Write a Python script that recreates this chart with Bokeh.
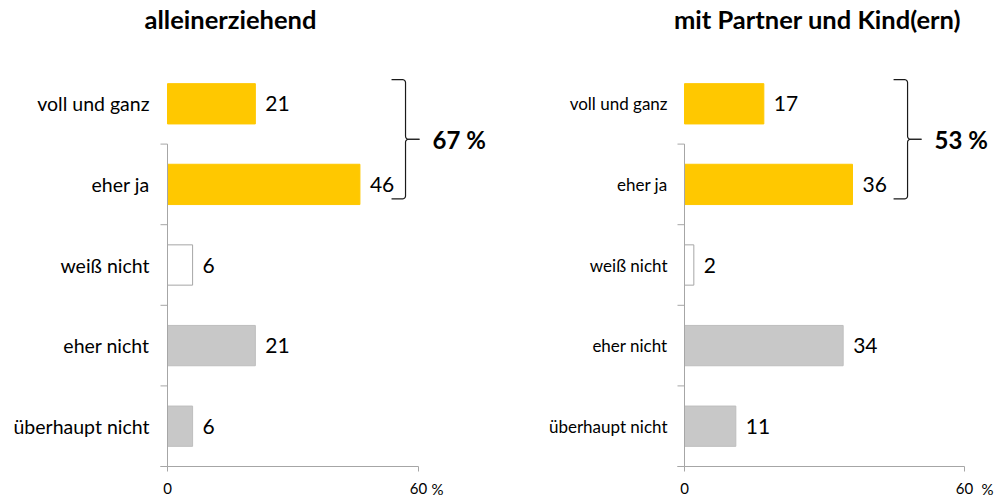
import numpy as np
from bokeh.plotting import figure
from bokeh.models import ColumnDataSource, Label, Range1d
from bokeh.layouts import row
from bokeh.embed import file_html
from bokeh.resources import INLINE
from bokeh.core.properties import value

# ---- data ----
categories = ["voll und ganz", "eher ja", "weiß nicht", "eher nicht", "überhaupt nicht"]
alleinerziehend = [21, 46, 6, 21, 6]
mit_partner_und_kind = [17, 36, 2, 34, 11]
panel_titles = ["alleinerziehend", "mit Partner und Kind(ern)"]
zustimmung_total = [67, 53]
x_tick_values = [0, 60]
x_unit = "%"

# ---- style ----
FONT = "Lato"
YELLOW = "#FFC800"
GREY = "#C8C8C8"
fills = [YELLOW, YELLOW, "#FFFFFF", GREY, GREY]
lines = [YELLOW, YELLOW, "#A6A6A6", "#BEBEBE", "#BEBEBE"]
AXIS = "#A6A6A6"
H = 498
PLOT_TOP, PLOT_BOTTOM = 63, 466          # pixel rows of the category band
PPY = (PLOT_BOTTOM - PLOT_TOP) / 5.0


def brace_points(bx, top, bot, ppu):
    """Return two polylines (data coords) forming a '}' brace."""
    mid = (top + bot) / 2.0
    r = 3.0
    arm = 14.0
    tip = 14.0
    t = np.linspace(0, np.pi / 2, 6)
    halves = []
    for sgn, yend in ((1, top), (-1, bot)):
        xs, ys = [-arm], [0.0]
        for a in t:
            xs.append(-r + r * np.sin(a)); ys.append(-sgn * (r - r * np.cos(a)))
        span_px = abs(yend - mid) * PPY
        for a in t:
            xs.append(r - r * np.cos(a)); ys.append(-sgn * (span_px - r + r * np.sin(a)))
        xs.append(tip); ys.append(-sgn * span_px)
        halves.append(([bx + v / ppu for v in xs], [yend + v / PPY for v in ys]))
    return halves, mid


def panel(title, vals, total, width, axis_px, ppu, label_size, label_gap, brace_x,
          title_x, unit_gap):
    y_lo = 0.5 - (H - PLOT_BOTTOM) / PPY
    y_hi = 5.5 + PLOT_TOP / PPY
    p = figure(width=width, height=H, output_backend="svg", toolbar_location=None,
               x_range=Range1d(-axis_px / ppu, (width - axis_px) / ppu),
               y_range=Range1d(y_lo, y_hi),
               x_axis_type=None, y_axis_type=None,
               min_border=0, min_border_left=0, min_border_right=0,
               min_border_top=0, min_border_bottom=0)
    p.outline_line_color = None
    p.xgrid.visible = False
    p.ygrid.visible = False

    ys = [5, 4, 3, 2, 1]
    src = ColumnDataSource(dict(y=ys, v=vals, t=[str(v) for v in vals],
                                fill=fills, line=lines, cat=categories))
    p.hbar(y="y", left=0, right="v", height=0.5, fill_color="fill",
           line_color="line", line_width=1, source=src)
    p.text(x="v", y="y", text="t", x_offset=10, text_baseline="middle",
           text_align="left", text_font=value(FONT), text_font_size="21px",
           text_color="#000000", source=src)

    # category axis (vertical) with ticks between categories
    bounds = [y - 0.5 for y in ys] + [ys[-1] - 0.5]
    p.segment(x0=0, y0=min(bounds), x1=0, y1=max(bounds), line_color=AXIS, line_width=1)
    p.segment(x0=[-7 / ppu] * len(bounds), y0=bounds, x1=[0] * len(bounds), y1=bounds,
              line_color=AXIS, line_width=1)
    p.text(x=[0] * len(ys), y=ys, text=categories, x_offset=-label_gap,
           text_align="right", text_baseline="middle", text_font=value(FONT),
           text_font_size=label_size, text_color="#000000")

    # value axis (horizontal)
    y0 = min(bounds)
    p.segment(x0=x_tick_values[0], y0=y0, x1=x_tick_values[-1], y1=y0,
              line_color=AXIS, line_width=1)
    p.segment(x0=x_tick_values, y0=[y0] * len(x_tick_values), x1=x_tick_values,
              y1=[y0 - 5 / PPY] * len(x_tick_values), line_color=AXIS, line_width=1)
    p.text(x=x_tick_values, y=[y0] * len(x_tick_values), text=[str(v) for v in x_tick_values],
           y_offset=22, text_align="center", text_baseline="middle", text_font=value(FONT),
           text_font_size="15px", text_color="#000000")
    p.text(x=[x_tick_values[-1]], y=[y0], text=[x_unit], x_offset=unit_gap, y_offset=22,
           text_align="left", text_baseline="middle", text_font=value(FONT),
           text_font_size="15px", text_color="#000000")

    # brace and total
    halves, mid = brace_points(brace_x, 5.3, 3.82, ppu)
    for dx, dy in halves:
        p.line(dx, dy, line_color="#1A1A1A", line_width=1.2)
    p.text(x=[brace_x], y=[mid], text=[f"{total} %"], x_offset=27,
           text_font=value(FONT), text_font_size="24px", text_font_style="bold",
           text_baseline="middle", text_align="left", text_color="#000000")

    # title
    p.add_layout(Label(x=title_x, y=H - 18, x_units="screen", y_units="screen",
                       text=title, text_font=FONT, text_font_size="25.5px",
                       text_font_style="bold", text_align="center",
                       text_baseline="alphabetic", text_color="#000000"))
    return p


p1 = panel(panel_titles[0], alleinerziehend, zustimmung_total[0], 500, 167,
           251 / 60.0, "19.5px", 18, 56.9, 230, 13)
p2 = panel(panel_titles[1], mit_partner_und_kind, zustimmung_total[1], 497, 184,
           280 / 60.0, "17px", 17, 47.8, 317, 17)

layout = row(p1, p2, spacing=0)
open("out.html", "w").write(file_html(layout, INLINE))
